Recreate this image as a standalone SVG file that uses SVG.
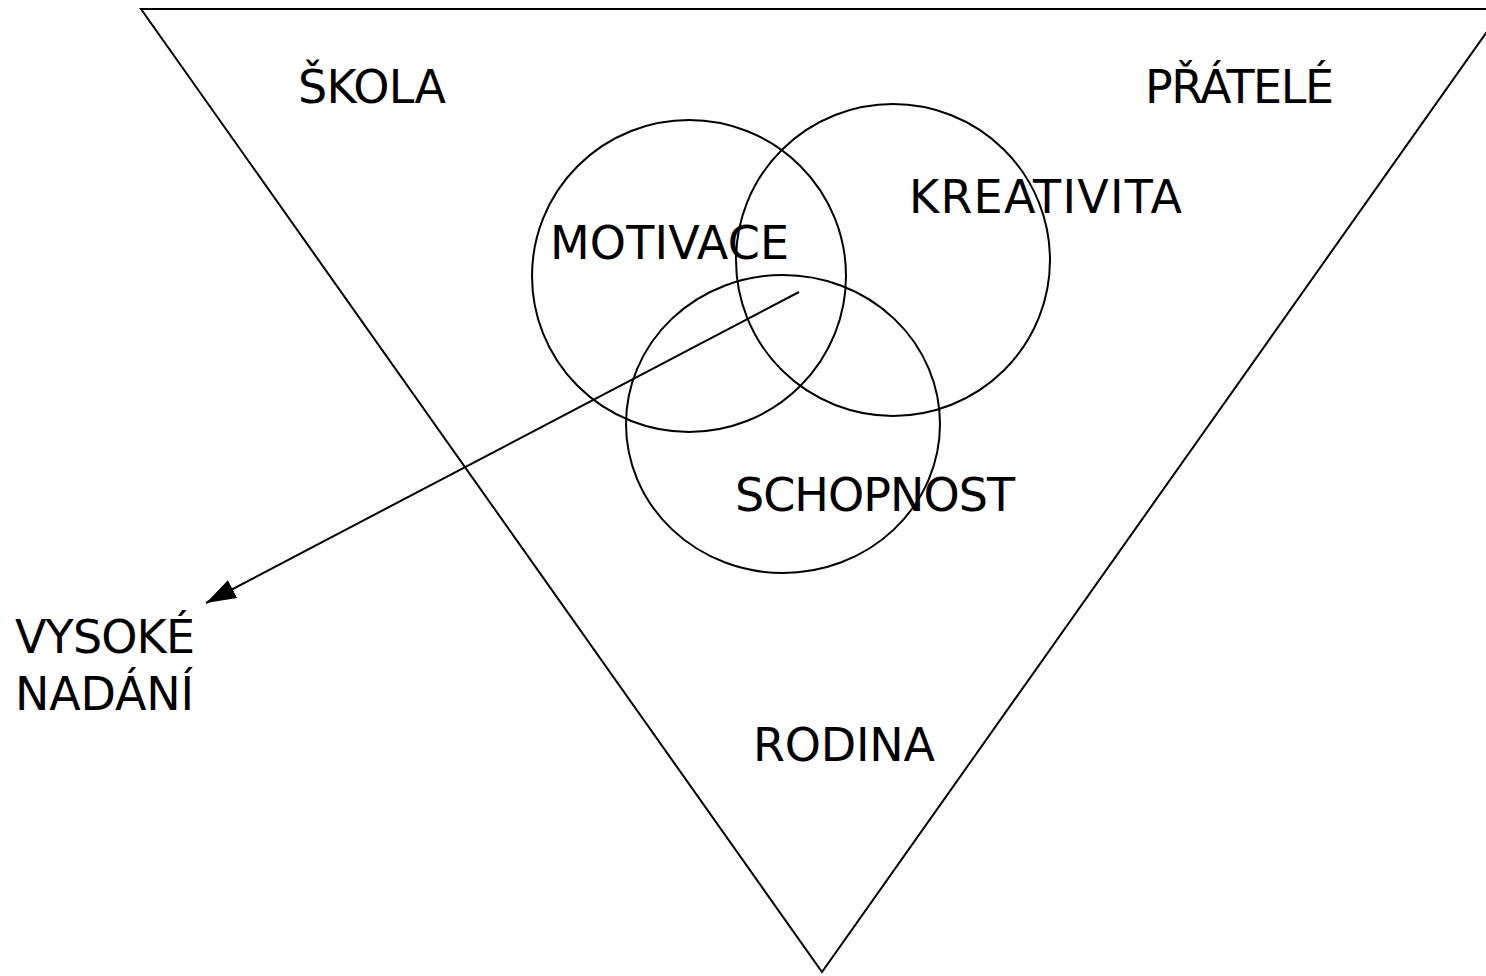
<svg xmlns="http://www.w3.org/2000/svg" width="1486" height="976" viewBox="0 0 1486 976">
<style>
.s{fill:none;stroke:#000;stroke-width:2}
.t{font-family:"DejaVu Sans",Verdana,sans-serif;font-size:46px;fill:#000}
</style>
<defs>
<marker id="ah" markerWidth="30" markerHeight="20" refX="30" refY="10" orient="auto" markerUnits="userSpaceOnUse">
<path d="M0,0 L30,10 L0,20 Z" fill="#000"/>
</marker>
</defs>
<rect width="1486" height="976" fill="#fff"/>
<g id="triangle"><path class="s" d="M141,9 L1503,9 L822,972 Z"/></g>
<g id="skola"><text class="t" x="298" y="103" textLength="148">ŠKOLA</text></g>
<g id="pratele"><text class="t" x="1145" y="103" textLength="189">PŘÁTELÉ</text></g>
<g id="rodina"><text class="t" x="753" y="761" textLength="182">RODINA</text></g>
<g id="motivace"><ellipse class="s" cx="689" cy="276" rx="157" ry="156"/><text class="t" x="550" y="259" textLength="239">MOTIVACE</text></g>
<g id="kreativita"><ellipse class="s" cx="893" cy="260" rx="157" ry="156"/><text class="t" x="909" y="213" textLength="273">KREATIVITA</text></g>
<g id="schopnost"><ellipse class="s" cx="783" cy="424" rx="157" ry="149"/><text class="t" x="735" y="511" textLength="280">SCHOPNOST</text></g>
<g id="vysoke"><text class="t" x="15" y="653" textLength="180">VYSOKÉ</text><text class="t" x="15" y="710" textLength="179">NADÁNÍ</text></g>
<g id="connectors"><line class="s" x1="799" y1="292" x2="206" y2="603" marker-end="url(#ah)"/></g>
</svg>
